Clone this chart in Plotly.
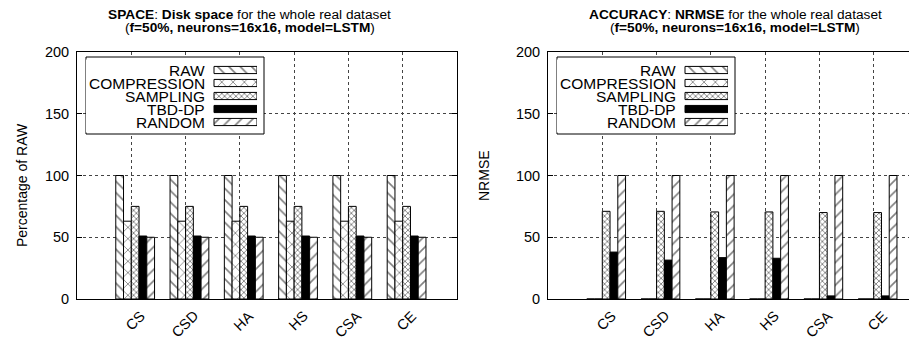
import plotly.graph_objects as go

categories = ["CS", "CSD", "HA", "HS", "CSA", "CE"]
series_names = ["RAW", "COMPRESSION", "SAMPLING", "TBD-DP", "RANDOM"]

space_raw = [100, 100, 100, 100, 100, 100]
space_compression = [63, 63, 63, 63, 63, 63]
space_sampling = [75, 75, 75, 75, 75, 75]
space_tbddp = [51, 51, 51, 51, 51, 51]
space_random = [50, 50, 50, 50, 50, 50]

nrmse_raw = [0, 0, 0, 0, 0, 0]
nrmse_compression = [0, 0, 0, 0, 0, 0]
nrmse_sampling = [71, 71, 70.5, 70.5, 70, 70]
nrmse_tbddp = [38, 31.5, 33.5, 33, 2.5, 2.5]
nrmse_random = [100, 100, 100, 100, 100, 100]

yticks = [0, 50, 100, 150, 200]
YMAX = 200

# page offset (browser body margin) and figure geometry
OFF = 8
W, H = 917 - OFF, 343 - OFF
TOP, BOT = 52, 299            # plot area in screenshot pixels
MT, MB = TOP - OFF, H - (BOT - OFF)
PH = BOT - TOP


def fx(p):
    return (p - OFF) / W


def fy(p):
    return (BOT - p) / PH


FAM = "Liberation Sans, Arial, sans-serif"
font = dict(family=FAM, size=14.5, color="black")

styles = [
    dict(shape="\\", size=8, solidity=0.2, fgcolor="black", bgcolor="white"),
    dict(shape="x", size=8, solidity=0.2, fgcolor="black", bgcolor="white"),
    dict(shape="x", size=4, solidity=0.4, fgcolor="black", bgcolor="white"),
    None,
    dict(shape="/", size=8, solidity=0.2, fgcolor="black", bgcolor="white"),
]


def mk_marker(j):
    st = styles[j]
    m = dict(line=dict(color="black", width=1))
    if st is None:
        m["color"] = "black"
    else:
        m["color"] = "white"
        m["pattern"] = st
    return m


fig = go.Figure()
panels = [
    (space_raw, space_compression, space_sampling, space_tbddp, space_random),
    (nrmse_raw, nrmse_compression, nrmse_sampling, nrmse_tbddp, nrmse_random),
]
for pi, vals in enumerate(panels):
    for j, (name, v) in enumerate(zip(series_names, vals)):
        fig.add_trace(go.Bar(
            x=categories, y=v, name=name, marker=mk_marker(j),
            width=1 / 7, offset=(j - 2) / 7, showlegend=False,
            xaxis="x" if pi == 0 else "x2",
            yaxis="y" if pi == 0 else "y2",
        ))

grid = dict(showgrid=True, gridcolor="#444444", griddash="dot", gridwidth=1)
xcommon = dict(type="category", showline=True, linecolor="black",
               linewidth=1, ticks="", showticklabels=False, zeroline=False,
               automargin=False, **grid)
ycommon = dict(range=[0, YMAX], tickvals=yticks, showline=True, linecolor="black",
               linewidth=1, ticks="inside", ticklen=5, tickcolor="black",
               tickfont=font, ticklabelstandoff=4, zeroline=False,
               automargin=False, **grid)

# panel geometry in screenshot pixels
L1, R1 = 77, 457
L2, R2 = 548, 917
UNIT = (R1 - L1) / 7
PANELS = [(L1, R1, -1), (L2, R2, -1)]
# legend geometry (screenshot pixels)
LEG = [(86, 264), (557, 735)]
LEG_T, LEG_B = 57, 134
ROW_T, ROW_B = 59.5, 132.5
SW_OFF0, SW_OFF1 = 128, 171   # swatch x relative to legend box left
TXT_OFF = 121                 # text right edge relative to legend box left

layout = dict(
    width=W, height=H,
    margin=dict(l=0, r=0, t=MT, b=MB),
    paper_bgcolor="white", plot_bgcolor="white",
    font=font, barmode="overlay", showlegend=False,
    xaxis=dict(domain=[fx(L1), fx(R1)], range=[-1, -1 + (R1 - L1) / UNIT],
               anchor="y", mirror=True, **xcommon),
    yaxis=dict(domain=[0, 1], anchor="x", mirror="ticks", **ycommon),
    xaxis2=dict(domain=[fx(L2), 1], range=[-1, -1 + (R2 - L2) / UNIT],
                anchor="y2", mirror=True, **xcommon),
    yaxis2=dict(domain=[0, 1], anchor="x2", mirror=False, **ycommon),
)

shapes = []
annotations = []

# rotated category labels
for xr in ["x", "x2"]:
    for c in categories:
        annotations.append(dict(
            text=c, x=c, xref=xr, y=fy(305), yref="paper",
            xanchor="right", yanchor="top", xshift=19, textangle=-45,
            showarrow=False, font=font))

for k, (bl, br) in enumerate(LEG):
    xa = "xaxis%d" % (3 + k)
    ya = "yaxis%d" % (3 + k)
    sx0, sx1 = bl + SW_OFF0, bl + SW_OFF1
    sw = sx1 - sx0
    layout[xa] = dict(domain=[fx(bl), fx(sx1)], range=[-(sx0 - bl) / sw, 1],
                      visible=False, anchor="y%d" % (3 + k), fixedrange=True,
                      showgrid=False)
    layout[ya] = dict(domain=[fy(ROW_B), fy(ROW_T)], type="category",
                      categoryorder="array", categoryarray=series_names[::-1],
                      visible=False, anchor="x%d" % (3 + k), fixedrange=True,
                      showgrid=False)
    for j, name in enumerate(series_names):
        fig.add_trace(go.Bar(
            x=[1], y=[name], orientation="h", marker=mk_marker(j), width=0.55,
            showlegend=False, xaxis="x%d" % (3 + k), yaxis="y%d" % (3 + k),
            hoverinfo="skip",
        ))
        annotations.append(dict(
            text=name, xref="x%d" % (3 + k), yref="y%d" % (3 + k),
            x=-(sx0 - (bl + TXT_OFF)) / sw, y=name,
            xanchor="right", yanchor="middle", showarrow=False,
            font=dict(family=FAM, size=15.5, color="black"),
        ))
    pl, pr, x0 = PANELS[k]
    shapes.append(dict(
        type="rect", layer="between",
        xref="x" if k == 0 else "x2",
        yref="y" if k == 0 else "y2",
        x0=x0 + (bl - pl) / UNIT, x1=x0 + (br - pl) / UNIT,
        y0=fy(LEG_B) * YMAX, y1=fy(LEG_T) * YMAX,
        fillcolor="white", line=dict(color="black", width=1),
    ))

title_lines = [
    ("<b>SPACE</b>: <b>Disk space</b> for the whole real dataset", 250, 14),
    ("(<b>f=50%, neurons=16x16, model=LSTM</b>)", 250, 28),
    ("<b>ACCURACY</b>: <b>NRMSE</b> for the whole real dataset", 735, 14),
    ("(<b>f=50%, neurons=16x16, model=LSTM</b>)", 735, 28),
]
for txt, cx, cy in title_lines:
    annotations.append(dict(
        text=txt, x=fx(cx), y=fy(cy), xref="paper", yref="paper",
        xanchor="center", yanchor="middle", showarrow=False,
        font=dict(family=FAM, size=13.7, color="black")))

for txt, cx, cy in [("Percentage of RAW", 22, 185), ("NRMSE", 484, 176)]:
    annotations.append(dict(
        text=txt, x=fx(cx), y=fy(cy), xref="paper", yref="paper", textangle=-90,
        xanchor="center", yanchor="middle", showarrow=False,
        font=dict(family=FAM, size=14, color="black")))

layout["shapes"] = shapes
layout["annotations"] = annotations
fig.update_layout(**layout)

fig.write_html("out.html")
